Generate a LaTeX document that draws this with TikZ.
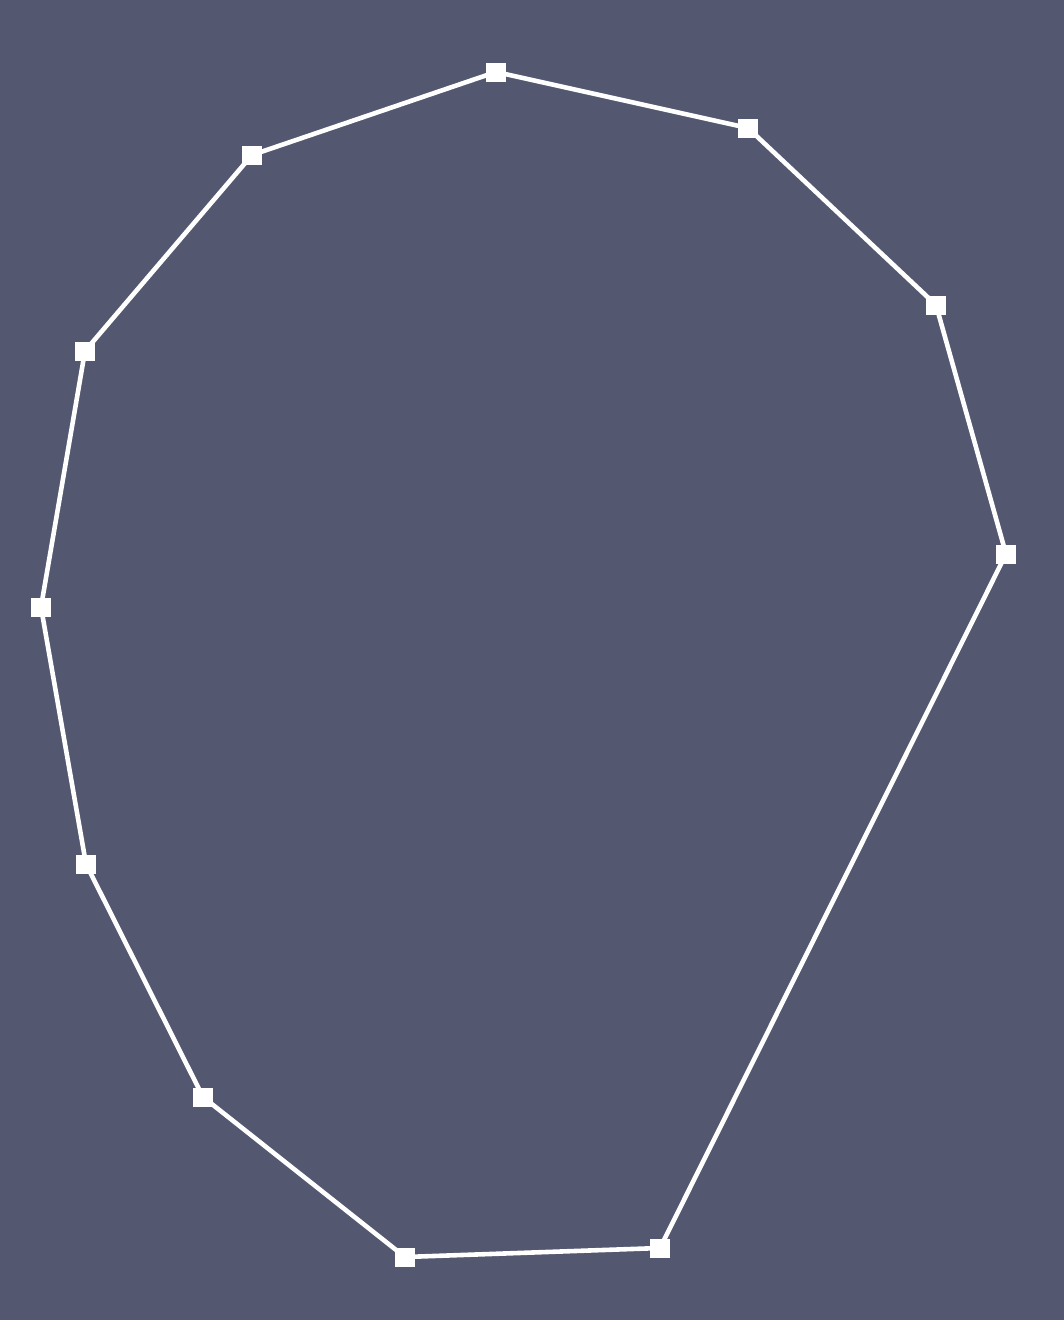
\documentclass[tikz,border=0pt]{standalone}
\usepackage{xcolor}
\definecolor{bgslate}{HTML}{535870}
\begin{document}
\begin{tikzpicture}[x=1pt,y=-1pt,
  vertexbox/.style={rectangle,fill=white,draw=none,minimum width=20pt,minimum height=19pt,inner sep=0pt},
  edgeline/.style={draw=white,line width=4.6pt}]
\fill[bgslate] (0,0) rectangle (1064,1320);
\useasboundingbox (0,0) rectangle (1064,1320);
\coordinate (p1) at (496,72);
\coordinate (p2) at (748,128);
\coordinate (p3) at (936,305);
\coordinate (p4) at (1006,554);
\coordinate (p5) at (660,1248);
\coordinate (p6) at (405,1257);
\coordinate (p7) at (203,1097);
\coordinate (p8) at (86,864);
\coordinate (p9) at (41,607);
\coordinate (p10) at (85,351);
\coordinate (p11) at (252,155);
\draw[edgeline,line join=round] (p1) -- (p2) -- (p3) -- (p4) -- (p5) -- (p6) -- (p7) -- (p8) -- (p9) -- (p10) -- (p11) -- cycle;
\foreach \i in {1,...,11} {
  \node[vertexbox] (v\i) at (p\i) {};
}
\end{tikzpicture}
\end{document}
